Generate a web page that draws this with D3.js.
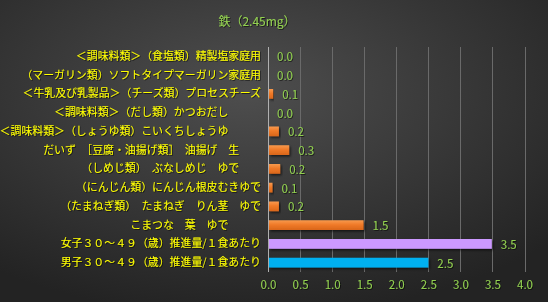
<!DOCTYPE html>
<html>
<head>
<meta charset="utf-8">
<script src="https://cdn.jsdelivr.net/npm/d3@7"></script>
<style>
  body { margin: 0; background: #2a2a2a; }
  svg { display: block; }
  text { font-family: "Noto Sans CJK JP", "Noto Sans", sans-serif; white-space: pre; }
</style>
</head>
<body>
<div id="chart-area"></div>
<script>

// data, top to bottom (trailing spaces are part of the original labels)
var categories = [
  "＜調味料類＞（食塩類）精製塩家庭用",
  "（マーガリン類）ソフトタイプマーガリン家庭用",
  "＜牛乳及び乳製品＞（チーズ類）プロセスチーズ",
  "＜調味料類＞（だし類）かつおだし　　　",
  "＜調味料類＞（しょうゆ類）こいくちしょうゆ　　　",
  "だいず　［豆腐・油揚げ類］　油揚げ　生　　",
  "（しめじ類）　ぶなしめじ　ゆで　　",
  "（にんじん類）にんじん根皮むきゆで",
  "（たまねぎ類）　たまねぎ　りん茎　ゆで",
  "こまつな　葉　ゆで　　　",
  "女子３０～４９（歳）推進量/１食あたり",
  "男子３０～４９（歳）推進量/１食あたり"
];
var values = [0.0, 0.0, 0.08, 0.0, 0.17, 0.33, 0.19, 0.07, 0.17, 1.49, 3.49, 2.5];
var barColors = ["o", "o", "o", "o", "o", "o", "o", "o", "o", "o", "#cc99ff", "#00b0f0"];
var xTicks = [0, 0.5, 1, 1.5, 2, 2.5, 3, 3.5, 4];
var title = "鉄（2.45mg）";

var W = 548, H = 302;
var margin = {top: 47, right: 24, bottom: 30, left: 268};
var width = W - margin.left - margin.right,
    height = H - margin.top - margin.bottom;

var root = d3.select("#chart-area").append("svg")
    .attr("width", W)
    .attr("height", H);

var defs = root.append("defs");

var bg = defs.append("radialGradient")
    .attr("id", "bg")
    .attr("cx", "0.45").attr("cy", "0.3").attr("r", "0.75");
bg.append("stop").attr("offset", "0%").attr("stop-color", "#4e4e4e");
bg.append("stop").attr("offset", "100%").attr("stop-color", "#232323");

var og = defs.append("linearGradient")
    .attr("id", "orange")
    .attr("x1", 0).attr("y1", 0).attr("x2", 0).attr("y2", 1);
og.append("stop").attr("offset", "0%").attr("stop-color", "#f89a4e");
og.append("stop").attr("offset", "45%").attr("stop-color", "#f07a28");
og.append("stop").attr("offset", "100%").attr("stop-color", "#d9661a");

var sh = defs.append("filter").attr("id", "shadow")
    .attr("x", "-10%").attr("y", "-30%").attr("width", "130%").attr("height", "180%");
sh.append("feDropShadow")
    .attr("dx", 1.5).attr("dy", 1.5).attr("stdDeviation", 1)
    .attr("flood-color", "#000").attr("flood-opacity", 0.6);

var txtShadow = defs.append("filter").attr("id", "tshadow");
txtShadow.append("feDropShadow")
    .attr("dx", 0.8).attr("dy", 0.8).attr("stdDeviation", 0.5)
    .attr("flood-color", "#000").attr("flood-opacity", 0.7);

root.append("rect")
    .attr("width", W).attr("height", H)
    .attr("fill", "url(#bg)");

root.append("text")
    .attr("x", 257).attr("y", 20)
    .attr("text-anchor", "middle")
    .attr("dominant-baseline", "central")
    .attr("fill", "#92d050")
    .attr("font-size", 12)
    .attr("filter", "url(#tshadow)")
    .text(title);

var svg = root.append("g")
    .attr("transform", "translate(" + margin.left + "," + margin.top + ")");

// Scales
var x = d3.scaleLinear().domain([0, 4]).range([0, width + 0.5]);
var y = d3.scaleBand().domain(categories).range([0, height]).paddingInner(0.48).paddingOuter(0.24);

// grid lines
svg.selectAll(".grid")
    .data(xTicks.slice(1))
  .enter().append("line")
    .attr("class", "grid")
    .attr("x1", function(d) { return Math.round(x(d)) + 0.5; })
    .attr("x2", function(d) { return Math.round(x(d)) + 0.5; })
    .attr("y1", 0).attr("y2", height)
    .attr("stroke", "#6a6a6a")
    .attr("stroke-width", 1);

svg.append("line")
    .attr("x1", 0.5).attr("x2", 0.5)
    .attr("y1", 0).attr("y2", height)
    .attr("stroke", "#b0b0b0");

// x axis
var xAxis = d3.axisBottom(x)
    .tickValues(xTicks)
    .tickSize(0)
    .tickPadding(9)
    .tickFormat(d3.format(".1f"));

var xg = svg.append("g")
    .attr("transform", "translate(0," + height + ")")
    .call(xAxis);
xg.select(".domain").remove();
xg.selectAll("text")
    .attr("fill", "#92d050")
    .attr("font-size", 11.5)
    .attr("filter", "url(#tshadow)");

// y axis labels
var yAxis = d3.axisLeft(y).tickSize(0).tickPadding(7);
var yg = svg.append("g").call(yAxis);
yg.select(".domain").remove();
yg.selectAll("text")
    .attr("fill", "#ffff00")
    .attr("font-size", 10.9)
    .attr("filter", "url(#tshadow)");

// bars
svg.selectAll(".bar")
    .data(values)
  .enter().append("rect")
    .attr("class", "bar")
    .attr("x", 1)
    .attr("y", function(d, i) { return y(categories[i]); })
    .attr("width", function(d) { return Math.max(0, x(d) - 1); })
    .attr("height", y.bandwidth())
    .attr("fill", function(d, i) { return barColors[i] == "o" ? "url(#orange)" : barColors[i]; })
    .attr("filter", "url(#shadow)");

// value labels
svg.selectAll(".val")
    .data(values)
  .enter().append("text")
    .attr("class", "val")
    .attr("x", function(d) { return x(d) + 9; })
    .attr("y", function(d, i) { return y(categories[i]) + y.bandwidth() / 2; })
    .attr("dominant-baseline", "central")
    .attr("fill", "#92d050")
    .attr("font-size", 11.5)
    .attr("filter", "url(#tshadow)")
    .text(function(d) { return d3.format(".1f")(d); });

</script>
</body>
</html>
